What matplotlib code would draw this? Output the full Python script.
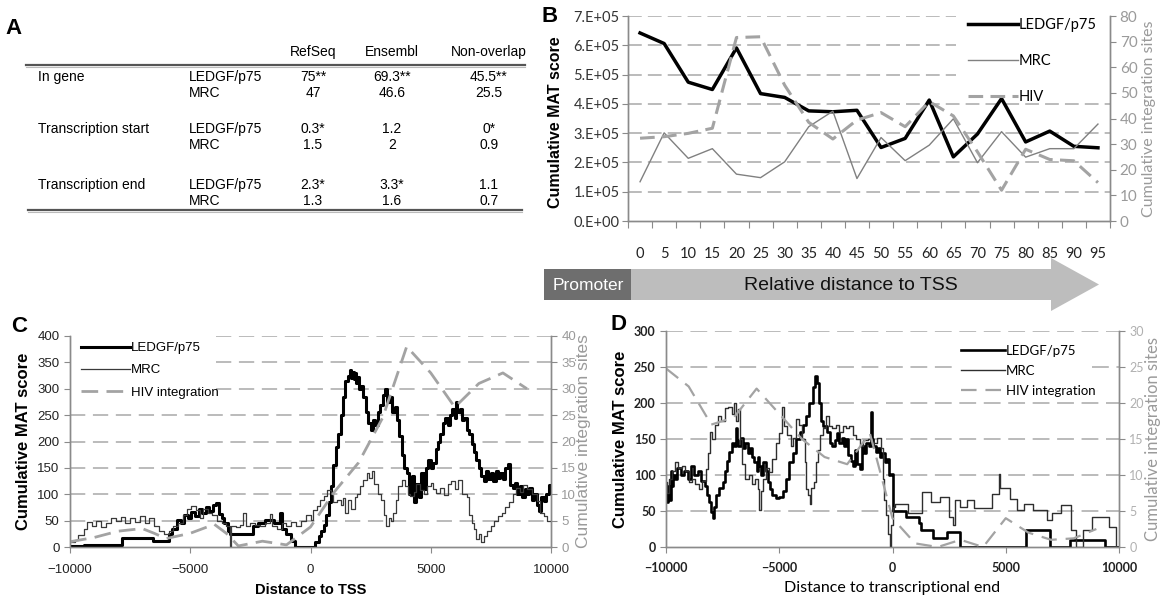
import matplotlib
matplotlib.use("Agg")
import matplotlib.pyplot as plt
import numpy as np
from matplotlib.patches import Polygon, Rectangle

plt.rcParams['font.family'] = ['Liberation Sans', 'DejaVu Sans']

W, H = 1163, 599

# ---------------- panel A: table ----------------
table_columns = ["RefSeq", "Ensembl", "Non-overlap"]
table_groups = ["In gene", "Transcription start", "Transcription end"]
table_samples = ["LEDGF/p75", "MRC"]
table_in_gene = [["75**", "69.3**", "45.5**"], ["47", "46.6", "25.5"]]
table_tx_start = [["0.3*", "1.2", "0*"], ["1.5", "2", "0.9"]]
table_tx_end = [["2.3*", "3.3*", "1.1"], ["1.3", "1.6", "0.7"]]

# ---------------- panel B: relative distance to TSS ----------------
b_positions = [0, 5, 10, 15, 20, 25, 30, 35, 40, 45, 50, 55, 60, 65, 70, 75, 80, 85, 90, 95]
b_ledgf = [6.42e5, 6.06e5, 4.74e5, 4.49e5, 5.91e5, 4.35e5, 4.22e5, 3.76e5, 3.73e5, 3.78e5,
           2.51e5, 2.82e5, 4.13e5, 2.19e5, 2.97e5, 4.18e5, 2.70e5, 3.07e5, 2.55e5, 2.50e5]
b_mrc = [1.34e5, 3.01e5, 2.14e5, 2.47e5, 1.60e5, 1.48e5, 2.02e5, 3.22e5, 3.75e5, 1.45e5,
         2.85e5, 2.06e5, 2.59e5, 3.49e5, 1.99e5, 3.05e5, 2.18e5, 2.47e5, 2.47e5, 3.31e5]
b_hiv = [32.3, 32.9, 34.2, 36.2, 71.6, 71.9, 53.0, 38.5, 32.0, 39.4,
         42.3, 36.8, 46.6, 41.0, 27.0, 12.0, 28.0, 24.0, 23.5, 15.0]
b_ytick_labels = ["0.E+00", "1.E+05", "2.E+05", "3.E+05", "4.E+05", "5.E+05", "6.E+05", "7.E+05"]

# ---------------- panel C: distance to TSS (bp, score) ----------------
c_ledgf = [(-10000, 1), (-9400, 4), (-7850, 18), (-6550, 12), (-5900, 25), (-5750, 35), (-5550, 52),
           (-5400, 45), (-5250, 60), (-5100, 55), (-4950, 66), (-4800, 58), (-4650, 72), (-4500, 64),
           (-4350, 76), (-4200, 68), (-4050, 80), (-3920, 84), (-3800, 62), (-3700, 55), (-3580, 45),
           (-3450, 30), (-3350, 24), (-2400, 40), (-2200, 46), (-1900, 52), (-1500, 46), (-1250, 64),
           (-1180, 35), (-1000, 24), (-800, 11), (-650, 0), (120, 0), (200, 10), (350, 20), (450, 30),
           (550, 42), (650, 60), (750, 85), (850, 115), (950, 155), (1050, 190), (1150, 215),
           (1250, 250), (1350, 285), (1450, 315), (1550, 325), (1650, 335), (1700, 320), (1750, 332),
           (1800, 318), (1850, 330), (1900, 310), (1950, 322), (2000, 300), (2100, 305), (2200, 285),
           (2300, 255), (2400, 235), (2500, 222), (2600, 240), (2700, 232), (2800, 255), (2900, 270),
           (3000, 288), (3100, 300), (3200, 275), (3300, 285), (3400, 255), (3500, 265), (3600, 240),
           (3700, 210), (3800, 175), (3900, 150), (4000, 140), (4100, 100), (4200, 135), (4300, 85),
           (4400, 120), (4500, 95), (4600, 140), (4700, 110), (4800, 150), (4900, 165), (5000, 150),
           (5100, 160), (5200, 185), (5300, 200), (5400, 215), (5500, 235), (5600, 245), (5700, 232),
           (5800, 250), (5900, 262), (6000, 245), (6050, 275), (6100, 255), (6200, 262), (6300, 240),
           (6400, 245), (6500, 222), (6600, 215), (6700, 195), (6800, 180), (6900, 165), (7000, 150),
           (7100, 135), (7200, 125), (7300, 145), (7400, 128), (7500, 140), (7600, 125), (7700, 145),
           (7800, 130), (7900, 140), (8000, 128), (8100, 150), (8200, 158), (8300, 118), (8400, 112),
           (8500, 122), (8600, 100), (8700, 115), (8800, 95), (8900, 110), (9000, 100), (9100, 112),
           (9200, 90), (9300, 100), (9400, 80), (9500, 68), (9600, 95), (9700, 88), (9800, 100),
           (9900, 118), (10000, 118)]
c_mrc = [(-10000, 10), (-9800, 14), (-9650, 22), (-9400, 35), (-9300, 48), (-9100, 40), (-8900, 50),
         (-8700, 38), (-8500, 45), (-8300, 55), (-8100, 50), (-7900, 57), (-7700, 45), (-7500, 55),
         (-7300, 48), (-7100, 58), (-6900, 45), (-6700, 55), (-6500, 40), (-6300, 30), (-6100, 25),
         (-5900, 30), (-5700, 40), (-5500, 45), (-5300, 60), (-5150, 72), (-4950, 78), (-4750, 70),
         (-4600, 55), (-4450, 72), (-4250, 65), (-4100, 60), (-3900, 50), (-3700, 45), (-3500, 40),
         (-3340, 0), (-3300, 40), (-3100, 38), (-2950, 42), (-2800, 65), (-2700, 40), (-2500, 45),
         (-2300, 42), (-2100, 40), (-1900, 45), (-1700, 62), (-1600, 40), (-1400, 35), (-1200, 45),
         (-1000, 40), (-800, 48), (-600, 40), (-400, 50), (-200, 60), (0, 52), (100, 70), (250, 78),
         (400, 90), (550, 96), (700, 108), (850, 100), (950, 85), (1100, 90), (1250, 80), (1350, 92),
         (1450, 65), (1550, 90), (1700, 72), (1850, 95), (1950, 100), (2050, 115), (2200, 127),
         (2350, 140), (2450, 130), (2550, 145), (2650, 120), (2800, 100), (2950, 90), (3050, 60),
         (3150, 40), (3250, 55), (3350, 50), (3450, 65), (3550, 90), (3650, 115), (3800, 127),
         (3950, 115), (4050, 100), (4150, 96), (4300, 105), (4400, 120), (4550, 108), (4700, 100),
         (4850, 115), (5000, 122), (5100, 110), (5200, 102), (5400, 112), (5550, 98), (5700, 120),
         (5850, 125), (6000, 110), (6150, 127), (6300, 100), (6500, 95), (6600, 60), (6700, 45),
         (6800, 35), (6900, 15), (7000, 25), (7100, 10), (7200, 20), (7350, 30), (7500, 40),
         (7650, 50), (7800, 58), (7950, 65), (8100, 75), (8250, 85), (8400, 100), (8550, 112),
         (8700, 105), (8850, 118), (9000, 110), (9200, 100), (9400, 88), (9550, 65), (9700, 58),
         (9850, 50), (10000, 50)]
c_hiv_x = [-10000, -9000, -8000, -7000, -6500, -6000, -5000, -4000, -3500, -3000, -2000, -1000,
           0, 1000, 2000, 3000, 4000, 5000, 6000, 7000, 8000, 9000]
c_hiv = [1.0, 1.8, 3.0, 3.5, 2.6, 1.6, 2.6, 4.3, 2.6, 0.2, 1.1, 0.4,
         3.8, 10.5, 16.0, 24.5, 38.0, 33.0, 26.5, 31.0, 33.0, 30.0]

# ---------------- panel D: distance to transcriptional end ----------------
d_ledgf = [(-10000, 80), (-9950, 62), (-9900, 85), (-9850, 65), (-9800, 105), (-9750, 85), (-9700, 100),
           (-9600, 95), (-9500, 110), (-9350, 100), (-9200, 105), (-9050, 95), (-8900, 112), (-8750, 100),
           (-8600, 105), (-8450, 92), (-8300, 85), (-8200, 72), (-8100, 62), (-8000, 48), (-7930, 40),
           (-7870, 55), (-7780, 72), (-7650, 82), (-7500, 90), (-7400, 105), (-7300, 120), (-7200, 132),
           (-7100, 145), (-7000, 140), (-6920, 165), (-6870, 148), (-6800, 140), (-6700, 152),
           (-6600, 138), (-6500, 145), (-6400, 130), (-6300, 138), (-6200, 125), (-6100, 118),
           (-6000, 105), (-5950, 125), (-5900, 112), (-5800, 100), (-5700, 118), (-5600, 105),
           (-5500, 90), (-5400, 80), (-5300, 72), (-5150, 68), (-5000, 70), (-4850, 78), (-4700, 95),
           (-4550, 118), (-4400, 130), (-4250, 150), (-4100, 160), (-3950, 170), (-3820, 182),
           (-3680, 200), (-3530, 222), (-3420, 238), (-3350, 228), (-3250, 200), (-3150, 175),
           (-3050, 168), (-2900, 160), (-2750, 145), (-2650, 140), (-2550, 148), (-2450, 158),
           (-2350, 145), (-2250, 152), (-2150, 140), (-2050, 150), (-1950, 128), (-1850, 120),
           (-1750, 112), (-1650, 135), (-1550, 115), (-1450, 108), (-1350, 140), (-1250, 130),
           (-1150, 145), (-1050, 140), (-960, 188), (-920, 150), (-850, 140), (-750, 132), (-650, 138),
           (-550, 125), (-450, 130), (-350, 118), (-250, 122), (-150, 100), (-50, 102), (0, 50),
           (150, 50), (600, 42), (1150, 33), (1250, 24), (1800, 12), (2400, 21), (3000, 0),
           (5900, 24), (6950, 0), (7850, 10), (9400, 0), (10000, 0)]
d_mrc = [(-10000, 90), (-9950, 75), (-9850, 95), (-9750, 105), (-9600, 118), (-9450, 110), (-9300, 112),
         (-9150, 105), (-9000, 90), (-8850, 95), (-8700, 88), (-8550, 80), (-8400, 92), (-8250, 108),
         (-8150, 130), (-8050, 160), (-7980, 150), (-7850, 170), (-7700, 182), (-7550, 175),
         (-7400, 193), (-7250, 195), (-7100, 185), (-7000, 200), (-6900, 175), (-6800, 192),
         (-6750, 150), (-6650, 115), (-6500, 95), (-6350, 100), (-6200, 88), (-6050, 95), (-5950, 80),
         (-5880, 52), (-5820, 78), (-5700, 95), (-5600, 110), (-5450, 104), (-5300, 122), (-5150, 145),
         (-5000, 158), (-4870, 195), (-4800, 168), (-4650, 155), (-4500, 140), (-4400, 152),
         (-4260, 178), (-4150, 170), (-4000, 150), (-3880, 118), (-3800, 80), (-3720, 72), (-3650, 60),
         (-3580, 82), (-3480, 90), (-3380, 118), (-3300, 135), (-3200, 155), (-3080, 165), (-2940, 182),
         (-2800, 168), (-2650, 165), (-2500, 170), (-2350, 160), (-2200, 168), (-2050, 165),
         (-1900, 168), (-1750, 155), (-1600, 150), (-1450, 140), (-1300, 148), (-1100, 150),
         (-900, 145), (-700, 152), (-500, 138), (-420, 95), (-370, 65), (-290, 45), (-210, 18),
         (-130, 0), (-60, 30), (0, 55), (100, 60), (700, 47), (1300, 77), (1700, 62), (2100, 70),
         (2500, 42), (2650, 30), (2750, 65), (3000, 56), (3300, 65), (3600, 54), (4400, 74),
         (4680, 102), (4750, 82), (5200, 66), (5500, 51), (5800, 60), (6200, 51), (6800, 37),
         (7050, 47), (7450, 58), (7900, 23), (8100, 0), (8400, 23), (8800, 42), (9550, 28),
         (9850, 0), (10000, 0)]
d_hiv_x = [-10000, -9000, -8000, -7000, -6000, -5000, -4000, -3000, -2000, -1000,
           0, 1000, 2000, 3000, 4000, 5000, 6000, 7000, 8000, 9000]
d_hiv = [24.8, 22.3, 17.0, 18.0, 22.0, 18.5, 15.0, 12.5, 11.5, 15.8,
         4.0, 0.5, 0.0, 1.0, 0.0, 4.0, 2.0, 1.0, 1.2, 2.5]

# ---------------- styling ----------------
GRID = '#a8a8a8'
SPINE = '#8a8a8a'
RIGHT_TXT = '#9a9a9a'
CAL = ['Lato', 'DejaVu Sans']

fig = plt.figure(figsize=(W / 100, H / 100), dpi=100)


def box(l, t, r, b):
    return [l / W, 1 - b / H, (r - l) / W, (b - t) / H]


def dashed_grid(ax, levels, spans, dashes):
    for lev in levels:
        for x0, x1 in spans.get(lev, [(0, 1)]):
            ax.axhline(lev, x0, x1, color=GRID, lw=1.1, dashes=dashes, zorder=0)


def style_spines(ax):
    ax.spines['top'].set_visible(False)
    for s in ('left', 'right', 'bottom'):
        ax.spines[s].set_color(SPINE)
        ax.spines[s].set_linewidth(1.0)
    ax.patch.set_visible(False)


# overlay in pixel coordinates for table, banner and panel letters
ov = fig.add_axes([0, 0, 1, 1], zorder=-1)
ov.set_xlim(0, W)
ov.set_ylim(H, 0)
ov.axis('off')

for letter, (lx, ly) in zip("ABCD", [(14, 28), (550, 16), (19, 327), (619, 325)]):
    ov.text(lx, ly, letter, fontsize=16, fontweight='bold', ha='center', va='center')

# ---- table (panel A)
col_x = [313, 392, 489]
for cx, name in zip(col_x, table_columns):
    ov.text(cx, 52, name, fontsize=10, ha='center', va='center')
ov.plot([26, 525], [64.5, 64.5], color='#555555', lw=1.6)
ov.plot([26, 525], [66.5, 66.5], color='#bbbbbb', lw=0.8)
group_y = [77, 129, 185]
for gy, group, block in zip(group_y, table_groups, [table_in_gene, table_tx_start, table_tx_end]):
    ov.text(38, gy, group, fontsize=10, ha='left', va='center')
    for k, (sample, vals) in enumerate(zip(table_samples, block)):
        ry = gy + 16 * k
        ov.text(189, ry, sample, fontsize=10, ha='left', va='center')
        for cx, v in zip(col_x, vals):
            ov.text(cx, ry, v, fontsize=10, ha='center', va='center')
ov.plot([28, 522], [210, 210], color='#555555', lw=1.6)
ov.plot([28, 522], [212, 212], color='#bbbbbb', lw=0.8)

# ---- banner under panel B
ov.add_patch(Polygon([(544, 269), (1051, 269), (1051, 258), (1099, 284.5), (1051, 311),
                      (1051, 300), (544, 300)], closed=True, facecolor='#bdbdbd', edgecolor='none'))
ov.add_patch(Rectangle((544, 269), 87, 31, facecolor='#6e6e6e', edgecolor='none'))
ov.text(588, 285, "Promoter", color='white', fontsize=12.5, ha='center', va='center')
ov.text(851, 285, "Relative distance to TSS", color='#111111', fontsize=14, ha='center', va='center')

# ================= panel B =================
axB = fig.add_axes(box(628, 16, 1110, 221))
style_spines(axB)
cats = np.arange(len(b_positions))
axB.set_xlim(-0.5, len(b_positions) - 0.5)
axB.set_ylim(0, 7e5)
dashed_grid(axB, [1e5, 2e5, 3e5, 4e5, 5e5, 6e5, 7e5],
            {5e5: [(0, 0.68)], 6e5: [(0, 0.68)], 7e5: [(0, 0.68)]}, (9, 4))
lB1, = axB.plot(cats, b_ledgf, color='black', lw=2.5, label='LEDGF/p75', zorder=3)
lB2, = axB.plot(cats, b_mrc, color='#808080', lw=1.0, label='MRC', zorder=3)
axB.set_yticks(np.arange(0, 7.01e5, 1e5))
axB.set_yticklabels(b_ytick_labels)
axB.set_xticks(np.arange(-0.5, len(b_positions), 1.0))
axB.set_xticklabels([])
axB.set_xticks(cats, minor=True)
axB.set_xticklabels([str(p) for p in b_positions], minor=True)
axB.tick_params(axis='x', which='major', length=5, color=SPINE, direction='out')
axB.tick_params(axis='x', which='minor', length=0, pad=19, labelsize=10.5, labelcolor='#222222')
axB.tick_params(axis='y', length=4, color=SPINE, labelsize=10.5, labelcolor='#333333', pad=2)
for t in axB.get_xticklabels(minor=True) + axB.get_yticklabels():
    t.set_family(CAL)
axB.set_ylabel("Cumulative MAT score", fontsize=11.5, fontweight='bold')
axB.yaxis.set_label_coords(-0.135, 0.48)

axB2 = axB.twinx()
style_spines(axB2)
axB2.set_ylim(0, 80)
lB3, = axB2.plot(cats, b_hiv, color='#a3a3a3', lw=2.2, dashes=(4.8, 2.4), label='HIV', zorder=2)
axB2.set_yticks(np.arange(0, 81, 10))
axB2.tick_params(axis='y', length=4, color=SPINE, labelsize=11, labelcolor=RIGHT_TXT, pad=3)
for t in axB2.get_yticklabels():
    t.set_family(CAL)
axB2.set_ylabel("Cumulative integration sites", fontsize=11.5, color=RIGHT_TXT, family=CAL)
axB2.yaxis.set_label_coords(1.066, 0.5)
axB2.legend(handles=[lB1, lB2, lB3], loc='upper left', bbox_to_anchor=(968 / W, 1 - 18 / H),
            bbox_transform=fig.transFigure, frameon=False, borderpad=0, borderaxespad=0,
            handlelength=3.4, handletextpad=0.1, labelspacing=1.5,
            prop={'family': CAL, 'size': 10.5})

# ================= panel C =================
axC = fig.add_axes(box(70, 336, 551, 547))
style_spines(axC)
axC.set_xlim(-10000, 10000)
axC.set_ylim(0, 400)
dashed_grid(axC, list(range(50, 401, 50)),
            {300: [(0.304, 1)], 350: [(0.304, 1)], 400: [(0.304, 1)]}, (10, 5))
cx1, cy1 = zip(*c_ledgf)
cx2, cy2 = zip(*c_mrc)
lC1, = axC.step(cx1, cy1, where='post', color='black', lw=2.2, label='LEDGF/p75', zorder=3)
lC2, = axC.step(cx2, cy2, where='post', color='#3a3a3a', lw=0.9, label='MRC', zorder=3)
axC.set_yticks(range(0, 401, 50))
axC.set_xticks(range(-10000, 10001, 5000))
axC.tick_params(axis='both', length=4, color=SPINE, labelsize=9.5, labelcolor='#222222')
axC.tick_params(axis='x', pad=8)
axC.set_xlabel("Distance to TSS", fontsize=10.5, fontweight='bold', labelpad=5)
axC.set_ylabel("Cumulative MAT score", fontsize=12, fontweight='bold')
axC.yaxis.set_label_coords(-0.081, 0.5)

axC2 = axC.twinx()
style_spines(axC2)
axC2.set_ylim(0, 40)
lC3, = axC2.plot(c_hiv_x, c_hiv, color='#a3a3a3', lw=2.0, dashes=(6, 3), label='HIV integration', zorder=2)
axC2.set_yticks(range(0, 41, 5))
axC2.tick_params(axis='y', length=4, color=SPINE, labelsize=9.5, labelcolor=RIGHT_TXT)
axC2.set_ylabel("Cumulative integration sites", fontsize=12.5, color=RIGHT_TXT)
axC2.yaxis.set_label_coords(1.052, 0.5)
axC2.legend(handles=[lC1, lC2, lC3], loc='upper left', bbox_to_anchor=(81 / W, 1 - 342 / H),
            bbox_transform=fig.transFigure, frameon=False, borderpad=0, borderaxespad=0,
            handlelength=3.7, handletextpad=0.1, labelspacing=0.75, prop={'size': 9.5})

# ================= panel D =================
axD = fig.add_axes(box(666, 331, 1119, 547))
style_spines(axD)
axD.set_xlim(-10000, 10000)
axD.set_ylim(0, 300)
dashed_grid(axD, list(range(50, 301, 50)), {250: [(0, 0.642), (0.94, 1)]}, (11, 5))
dx1, dy1 = zip(*d_ledgf)
dx2, dy2 = zip(*d_mrc)
lD1, = axD.step(dx1, dy1, where='post', color='black', lw=1.9, label='LEDGF/p75', zorder=3)
lD2, = axD.step(dx2, dy2, where='post', color='#2e2e2e', lw=1.0, label='MRC', zorder=3)
axD.set_yticks(range(0, 301, 50))
axD.set_xticks(range(-10000, 10001, 5000))
axD.tick_params(axis='both', length=4, color=SPINE, labelsize=9, labelcolor='#222222')
axD.tick_params(axis='x', pad=7)
for t in axD.get_xticklabels() + axD.get_yticklabels():
    t.set_family(CAL)
    t.set_fontweight('bold')
axD.set_xlabel("Distance to transcriptional end", fontsize=11.5, family=CAL, labelpad=5)
axD.set_ylabel("Cumulative MAT score", fontsize=12, fontweight='bold')
axD.yaxis.set_label_coords(-0.084, 0.5)

axD2 = axD.twinx()
style_spines(axD2)
axD2.set_ylim(0, 30)
lD3, = axD2.plot(d_hiv_x, d_hiv, color='#a3a3a3', lw=1.6, dashes=(7, 4), label='HIV integration', zorder=2)
axD2.set_yticks(range(0, 31, 5))
axD2.tick_params(axis='y', length=4, color=SPINE, labelsize=9, labelcolor='#b0b0b0')
for t in axD2.get_yticklabels():
    t.set_family(CAL)
axD2.set_ylabel("Cumulative integration sites", fontsize=12, color=RIGHT_TXT, family=CAL)
axD2.yaxis.set_label_coords(1.057, 0.5)
axD2.legend(handles=[lD1, lD2, lD3], loc='upper left', bbox_to_anchor=(961 / W, 1 - 345 / H),
            bbox_transform=fig.transFigure, frameon=False, borderpad=0, borderaxespad=0,
            handlelength=3.3, handletextpad=0.1, labelspacing=0.6,
            prop={'family': CAL, 'size': 9.5})

fig.savefig("out.png", dpi=100)
